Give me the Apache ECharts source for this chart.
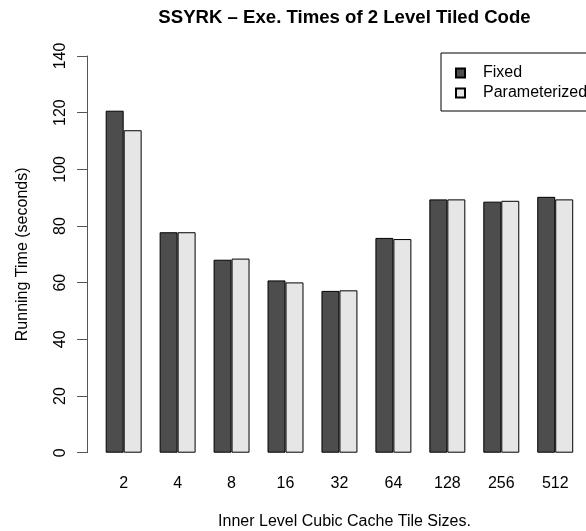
<!DOCTYPE html>
<html>
<head>
<meta charset="utf-8">
<script src="https://cdn.jsdelivr.net/npm/echarts@6/dist/echarts.min.js"></script>
<style>html,body{margin:0;padding:0;background:#fff}#c{width:586px;height:531px}</style>
</head>
<body>
<div id="c"></div>
<script>
const categories = ['2','4','8','16','32','64','128','256','512'];
const fixedTimes = [120.7, 77.8, 68.1, 60.8, 57.1, 75.8, 89.4, 88.6, 90.3];
const paramTimes = [113.8, 77.8, 68.5, 60.1, 57.3, 75.4, 89.4, 88.9, 89.4];
const yTicks = { min: 0, max: 140, interval: 20 };

const FONT = 'Liberation Sans, Arial, sans-serif';
const chart = echarts.init(document.getElementById('c'), null, { renderer: 'canvas' });
chart.setOption({
  animation: false,
  backgroundColor: '#fff',
  textStyle: { fontFamily: FONT },
  title: [
    { text: 'SSYRK \u2013 Exe. Times of 2 Level Tiled Code', left: 339.5, top: 3, textAlign: 'center',
      textStyle: { fontFamily: FONT, fontWeight: 'bold', fontSize: 18.6, color: '#000' } },
    { text: 'Inner Level Cubic Cache Tile Sizes.', left: 339.5, top: 509, textAlign: 'center',
      textStyle: { fontFamily: FONT, fontWeight: 'normal', fontSize: 16, color: '#000' } }
  ],
  legend: {
    orient: 'vertical', left: 441, top: 53,
    data: ['Fixed', 'Parameterized'],
    itemWidth: 9, itemHeight: 9, itemGap: 2,
    padding: [11, 20, 9, 14],
    borderColor: '#000', borderWidth: 1,
    icon: 'rect',
    textStyle: { fontFamily: FONT, fontSize: 16, color: '#000', lineHeight: 18, padding: [0, 0, 0, 13] }
  },
  grid: { left: 96.7, right: 3.8, top: 56, bottom: 78.3, containLabel: false },
  xAxis: {
    type: 'category', data: categories,
    axisLine: { show: false }, axisTick: { show: false },
    axisLabel: { margin: 23, fontSize: 16, color: '#000', fontFamily: FONT }
  },
  yAxis: {
    type: 'value', min: yTicks.min, max: yTicks.max, interval: yTicks.interval,
    offset: 9.7,
    name: 'Running Time (seconds)', nameLocation: 'middle', nameGap: 56, nameRotate: 90,
    nameTextStyle: { fontFamily: FONT, fontSize: 16, color: '#000' },
    axisLine: { show: true, lineStyle: { color: '#555', width: 1 } },
    axisTick: { show: true, length: 10, lineStyle: { color: '#555' } },
    axisLabel: { rotate: 90, margin: 18, fontSize: 16, color: '#000', fontFamily: FONT },
    splitLine: { show: false }
  },
  series: [
    { name: 'Fixed', type: 'bar', data: fixedTimes, barGap: '0%', barCategoryGap: '33.33%',
      itemStyle: { color: '#4d4d4d', borderColor: '#000', borderWidth: 1 } },
    { name: 'Parameterized', type: 'bar', data: paramTimes, barGap: '0%', barCategoryGap: '33.33%',
      itemStyle: { color: '#e6e6e6', borderColor: '#000', borderWidth: 1 } }
  ]
});
</script>
</body>
</html>
